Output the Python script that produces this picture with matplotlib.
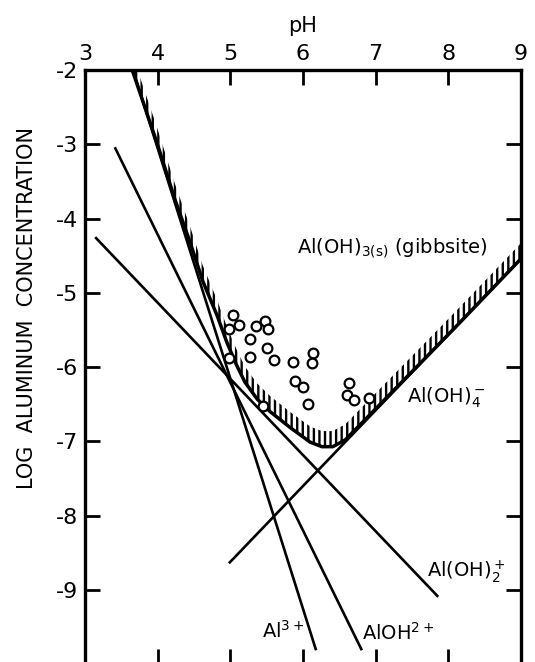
import matplotlib
matplotlib.use("Agg")
import matplotlib.pyplot as plt
import numpy as np

# solubility boundary of gibbsite
bound_ph = [3.66, 3.99, 4.24, 4.45, 4.62, 4.82, 4.95, 5.08, 5.20, 5.37,
            5.55, 5.82, 6.10, 6.26, 6.41, 6.58, 6.92, 8.09, 9.00]
bound_log = [-2.03, -2.98, -3.75, -4.33, -4.84, -5.31, -5.66, -5.96, -6.20, -6.43,
             -6.60, -6.81, -7.01, -7.07, -7.07, -6.98, -6.64, -5.47, -4.54]

# species lines: (pH start, pH end), (log start, log end)
al3_ph, al3_log = [3.67, 6.18], [-2.03, -9.81]
aloh_ph, aloh_log = [3.41, 6.81], [-3.04, -9.81]
aloh2_ph, aloh2_log = [3.14, 7.86], [-4.25, -9.09]
aloh4_ph, aloh4_log = [4.98, 9.00], [-8.64, -4.54]

# measured soil solutions
obs_ph = [5.04, 5.12, 4.98, 5.35, 5.48, 5.52, 5.27, 5.50, 4.98, 5.27, 5.60,
          5.86, 6.14, 6.12, 5.89, 6.00, 6.07, 5.45, 6.63, 6.61, 6.70, 6.91]
obs_log = [-5.30, -5.43, -5.49, -5.45, -5.38, -5.49, -5.62, -5.74, -5.88, -5.86, -5.90,
           -5.93, -5.81, -5.94, -6.19, -6.27, -6.50, -6.52, -6.21, -6.37, -6.44, -6.41]

x_ticks = [3, 4, 5, 6, 7, 8, 9]
y_ticks = [-9, -8, -7, -6, -5, -4, -3, -2]

plt.rcParams["font.family"] = ["DejaVu Sans"]
plt.rcParams["axes.unicode_minus"] = False
plt.rcParams["hatch.linewidth"] = 1.7

fig = plt.figure(figsize=(5.35, 6.62), dpi=100)
ax = fig.add_axes([85 / 535, 0.8943 - 0.8979, 436 / 535, 0.8979])
ax.set_xlim(3, 9)
ax.set_ylim(-10, -2)

lw = 1.9
for xs, ys in [(al3_ph, al3_log), (aloh_ph, aloh_log),
               (aloh2_ph, aloh2_log), (aloh4_ph, aloh4_log)]:
    ax.plot(xs, ys, color="black", lw=lw, solid_capstyle="butt")

bx = np.array(bound_ph)
by = np.array(bound_log)
ax.plot(bx, by, color="black", lw=2.5, solid_joinstyle="round")
# hatched band on the solid-phase side of the boundary
ax.fill_between(bx, by, by + 0.21, facecolor="none", edgecolor="black",
                linewidth=0, hatch="|||")

ax.plot(obs_ph, obs_log, "o", ms=7, mfc="white", mec="black", mew=1.6)

fs = 14
ax.text(5.92, -4.40, r"Al(OH)$\mathregular{_{3(s)}}$ (gibbsite)", fontsize=fs, va="center")
ax.text(7.43, -6.41, r"Al(OH)$\mathregular{_4^-}$", fontsize=fs, va="center")
ax.text(7.71, -8.75, r"Al(OH)$\mathregular{_2^+}$", fontsize=fs, va="center")
ax.text(5.44, -9.55, r"Al$\mathregular{^{3+}}$", fontsize=fs, va="center")
ax.text(6.81, -9.57, r"AlOH$\mathregular{^{2+}}$", fontsize=fs, va="center")

ax.set_xticks(x_ticks)
ax.set_yticks(y_ticks)
ax.xaxis.tick_top()
ax.xaxis.set_label_position("top")
ax.tick_params(axis="both", direction="in", length=11, width=2.0, labelsize=16,
               top=True, bottom=True, left=True, right=True)
ax.tick_params(axis="x", pad=4)
ax.tick_params(axis="y", pad=5)
ax.set_xlabel("pH", fontsize=15, labelpad=9)
ax.set_ylabel("LOG  ALUMINUM  CONCENTRATION", fontsize=15)
ax.yaxis.set_label_coords(-0.11, 0.60)
for side in ["top", "left", "right"]:
    ax.spines[side].set_linewidth(2.4)
ax.spines["bottom"].set_visible(False)

fig.savefig("out.png", dpi=100)
